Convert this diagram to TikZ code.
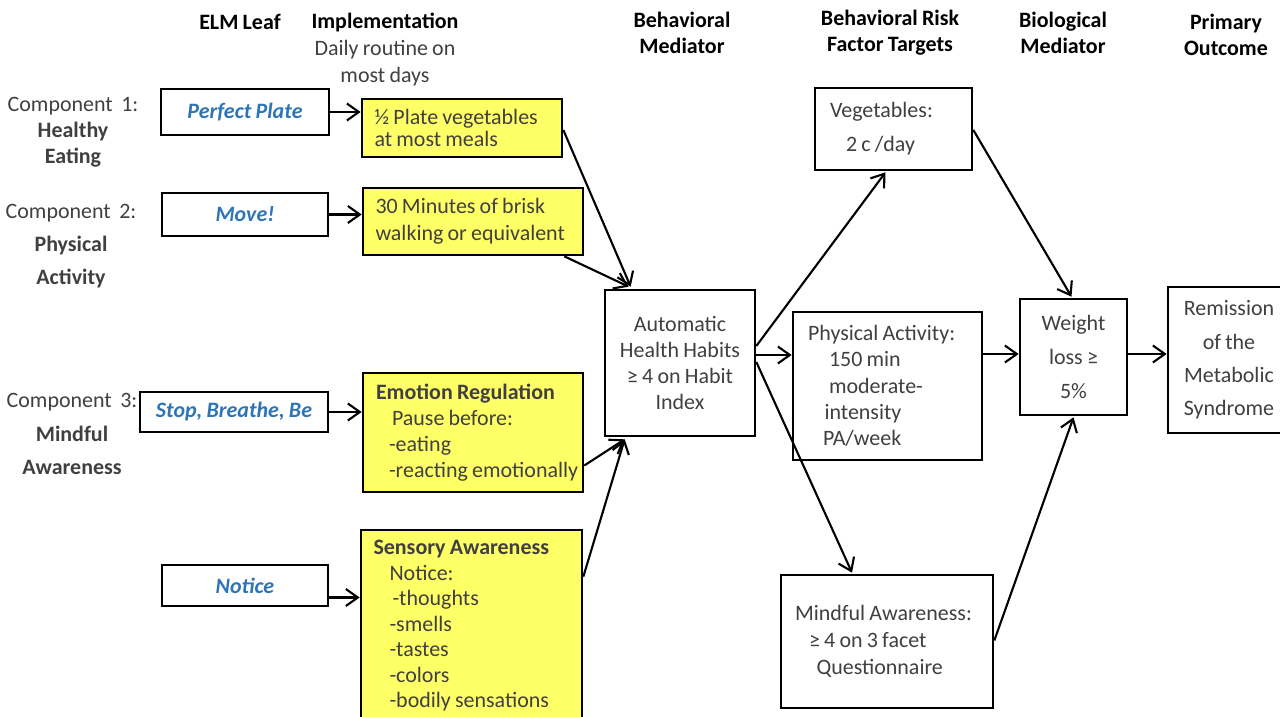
\documentclass[tikz,border=0pt]{standalone}
\usepackage{fontspec}
\setmainfont{Carlito}[WordSpace=0.85]
\usepackage{xcolor}
\definecolor{elmBlue}  {RGB}{ 46, 117, 182}
\definecolor{elmYellow}{RGB}{255, 255, 102}
\definecolor{elmInk}   {RGB}{ 64,  64,  64}
\usetikzlibrary{
  arrows.meta,
  calc,
}
\newcommand\elmsize[1]{\fontsize{12.5}{#1}\selectfont}

\begin{document}
\begin{tikzpicture}[
  x=0.2mm, y=-0.2mm,
  every node/.style={font=\elmsize{14.7}, text=elmInk},
  head/.style={font=\elmsize{14.7}\bfseries, text=black, align=center},
  comp/.style={align=center},
  leaf/.style={draw=black, line width=1.5pt, inner sep=0pt,
               minimum width=33.2mm, minimum height=8.6mm,
               font=\elmsize{14.7}\bfseries\itshape, text=elmBlue},
  impl/.style={draw=black, line width=1.5pt, fill=elmYellow, align=flush left,
               inner xsep=2.5mm, inner ysep=0pt},
  target/.style={draw=black, line width=1.5pt, fill=white, align=flush left,
                 inner xsep=3mm, inner ysep=0pt},
  medi/.style={draw=black, line width=1.5pt, fill=white, align=center,
               inner sep=0pt},
  link/.style={-{Straight Barb[length=2.4mm, width=3.4mm, line width=1.2pt]},
               line width=1.2pt, draw=black},
]
  \useasboundingbox (0,0) rectangle (1280,717);

  % column headers along the top
  \node[head] (hLeaf) at (240,22)   {ELM Leaf};
  \node[align=center, font=\elmsize{15.6}]
               (hImpl) at (385,49.5) {\textcolor{black}{\textbf{Implementation}}\\Daily routine on\\most days};
  \node[head] (hBeh)  at (682,33)   {Behavioral\\Mediator};
  \node[head] (hRisk) at (890,33)   {Behavioral Risk\\Factor Targets};
  \node[head] (hBio)  at (1063,33)  {Biological\\Mediator};
  \node[head] (hOut)  at (1226,35)  {Primary\\Outcome};

  % program components on the far left
  \node[comp] (c1) at (73,132) {Component\ \ 1:\\\textbf{Healthy}\\\textbf{Eating}};
  \node[comp, font=\elmsize{18.7}]
              (c2) at (71,246) {Component\ \ 2:\\\textbf{Physical}\\\textbf{Activity}};
  \node[comp, font=\elmsize{19}]
              (c3) at (72,434) {Component\ \ 3:\\\textbf{Mindful}\\\textbf{Awareness}};

  % ELM leaves
  \node[leaf, minimum width=33.6mm, minimum height=9.2mm] (pp)  at (245,112)   {Perfect Plate};
  \node[leaf]                                            (mv)  at (245,214.5) {Move!};
  \node[leaf, minimum width=37.6mm, minimum height=8mm]   (sbb) at (234,412)   {Stop, Breathe, Be};
  \node[leaf, minimum height=8.2mm]                      (nt)  at (245,585.5) {Notice};

  % implementation, yellow
  \node[impl, text width=35mm, minimum height=11.6mm, font=\elmsize{12.5}]
        (hp) at (462,128) {½ Plate vegetables\\at most meals};
  \node[impl, text width=39mm, minimum height=13.4mm, font=\elmsize{15.3}]
        (wk) at (473,221.5) {30 Minutes of brisk\\walking or equivalent};
  \node[impl, text width=44mm, inner xsep=0pt, minimum height=23.8mm]
        (er) at (473,432.5) {\hspace*{2.6mm}\textbf{Emotion Regulation}\\\hspace*{5.8mm}Pause before:\\
                             \hspace*{5.2mm}-eating\\\hspace*{5.2mm}-reacting emotionally};
  \node[impl, text width=39.2mm, minimum height=38.4mm, font=\elmsize{14.5}]
        (sa) at (471.5,626) {\textbf{Sensory Awareness}\\\hspace*{3.2mm}Notice:\\
                             \hspace*{3.8mm}-thoughts\\\hspace*{3.2mm}-smells\\\hspace*{3.2mm}-tastes\\
                             \hspace*{3.2mm}-colors\\\hspace*{3.2mm}-bodily sensations};

  % behavioral mediator
  \node[medi, minimum width=30mm, minimum height=29.2mm]
        (ah) at (680,363) {Automatic\\Health Habits\\≥ 4 on Habit\\Index};

  % risk factor targets
  \node[target, text width=25.4mm, minimum height=16.4mm, font=\elmsize{19.3}]
        (veg) at (893.5,129) {Vegetables:\\\hspace*{3.2mm}2 c /day};
  \node[target, text width=31.8mm, minimum height=29.6mm, font=\elmsize{15}]
        (pa) at (887.5,386) {Physical Activity:\\\hspace*{4.2mm}150 min\\\hspace*{4.2mm}moderate-\\
                             \hspace*{3.3mm}intensity\\\hspace*{3mm}PA/week};
  \node[target, text width=36.8mm, inner xsep=2.8mm, minimum height=26.6mm, font=\elmsize{15.3}]
        (ma) at (887,641.5) {Mindful Awareness:\\\hspace*{2.8mm}≥ 4 on 3 facet\\\hspace*{4.3mm}Questionnaire};

  % biological mediator and outcome
  \node[medi, minimum width=21.4mm, minimum height=23.2mm, font=\elmsize{19.3}]
        (wl) at (1073.5,357) {Weight\\loss ≥\\5\%};
  \node[medi, minimum width=24.4mm, minimum height=29.2mm, font=\elmsize{18.9}]
        (rm) at (1229,360) {Remission\\of the\\Metabolic\\Syndrome};

  % leaf -> implementation
  \draw[link] (pp.east)  -- (hp.west |- pp.east);
  \draw[link] (mv.east)  -- (wk.west |- mv.east);
  \draw[link] (sbb.east) -- (er.west |- sbb.east);
  \draw[link] ($(nt.east)+(0,12)$) -- (sa.west |- {$(nt.east)+(0,12)$});

  % implementation -> habits
  \draw[link] ($(hp.east)+(0,2)$)          -- ($(ah.north west)+(27,-2)$);
  \draw[link] ($(wk.south east)+(-20,0)$)  -- ($(ah.north west)+(25,-2)$);
  \draw[link] ($(er.east)+(0,33)$)         -- ($(ah.south west)+(21,2)$);
  \draw[link] ($(sa.north east)+(0,48)$)   -- ($(ah.south west)+(21,2)$);

  % habits -> targets
  \draw[link] ($(ah.east)+(0,-17)$) -- ($(veg.south)+(-8,1)$);
  \draw[link] ($(ah.east)+(0,-8)$)  -- ($(pa.west)+(0,-31)$);
  \draw[link] ($(ah.east)+(0,-1)$)  -- ($(ma.north)+(-35,-1)$);

  % targets -> weight loss -> remission
  \draw[link] ($(veg.east)+(0,1)$)  -- ($(wl.north)+(-2,-1)$);
  \draw[link] ($(pa.east)+(0,-32)$) -- ($(wl.west)+(0,-3)$);
  \draw[link] ($(ma.east)+(0,-1)$)  -- ($(wl.south)+(0,1)$);
  \draw[link] ($(wl.east)+(0,-3)$)  -- ($(rm.west)+(0,-6)$);
\end{tikzpicture}
\end{document}
